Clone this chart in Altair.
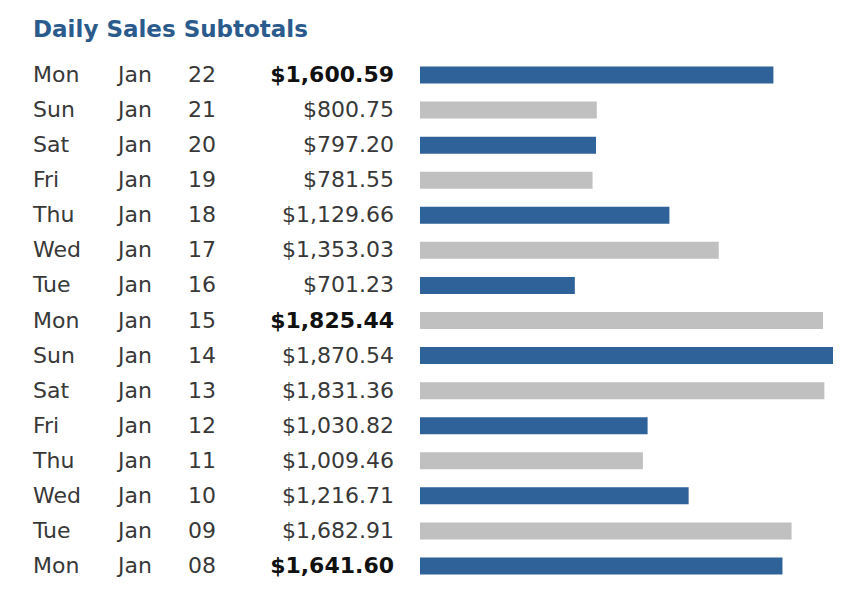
import altair as alt
import pandas as pd

weekdays = ["Mon", "Sun", "Sat", "Fri", "Thu", "Wed", "Tue", "Mon",
            "Sun", "Sat", "Fri", "Thu", "Wed", "Tue", "Mon"]
months = ["Jan"] * 15
day_numbers = ["22", "21", "20", "19", "18", "17", "16", "15",
               "14", "13", "12", "11", "10", "09", "08"]
sales = [1600.59, 800.75, 797.20, 781.55, 1129.66, 1353.03, 701.23, 1825.44,
         1870.54, 1831.36, 1030.82, 1009.46, 1216.71, 1682.91, 1641.60]

df = pd.DataFrame({
    "weekday": weekdays,
    "month": months,
    "daynum": day_numbers,
    "sales": sales,
})
df["row"] = [f"{m} {d}" for m, d in zip(months, day_numbers)]
df["shade"] = ["a" if i % 2 == 0 else "b" for i in range(len(df))]
df["amount"] = ["${:,.2f}".format(v) for v in sales]
df["bold"] = df["weekday"] == "Mon"

order = list(df["row"])
FONT = "DejaVu Sans"
FS = 22
TXT = "#383838"

y_enc = alt.Y("row:N", sort=order, axis=None,
              scale=alt.Scale(paddingInner=0.515, paddingOuter=0.2575))

base = alt.Chart(df)

bars = base.mark_bar().encode(
    x=alt.X("sales:Q", axis=None,
            scale=alt.Scale(domain=[0, max(sales)], nice=False, zero=True)),
    y=y_enc,
    color=alt.Color("shade:N", legend=None,
                    scale=alt.Scale(domain=["a", "b"], range=["#2f6299", "#c0c0c0"])),
)

def col(field, x, align="left", weight="normal", color=TXT, flt=None):
    c = base
    if flt is not None:
        c = c.transform_filter(flt)
    return c.mark_text(align=align, baseline="middle", font=FONT, fontSize=FS,
                       fontWeight=weight, color=color).encode(
        x=alt.value(x), y=y_enc, text=f"{field}:N")

wd = col("weekday", -387)
mo = col("month", -302)
dn = col("daynum", -232)
amt_plain = col("amount", -26, align="right", flt="!datum.bold")
amt_bold = col("amount", -26, align="right", weight="bold", color="#111111",
               flt="datum.bold")

title = alt.Chart(pd.DataFrame({"t": ["Daily Sales Subtotals"]})).mark_text(
    align="left", baseline="alphabetic", font=FONT, fontSize=23,
    fontWeight="bold", color="#2b5b8c"
).encode(x=alt.value(-387), y=alt.value(-21), text="t:N")

chart = alt.layer(bars, wd, mo, dn, amt_plain, amt_bold, title).properties(
    width=413, height=526,
    background="white",
    autosize=alt.AutoSizeParams(type="none"),
    padding={"left": 420, "top": 57.5, "right": 26, "bottom": 9.5},
).configure_view(strokeWidth=0)

chart.save("out.html", embed_options={"renderer": "svg", "actions": False})
